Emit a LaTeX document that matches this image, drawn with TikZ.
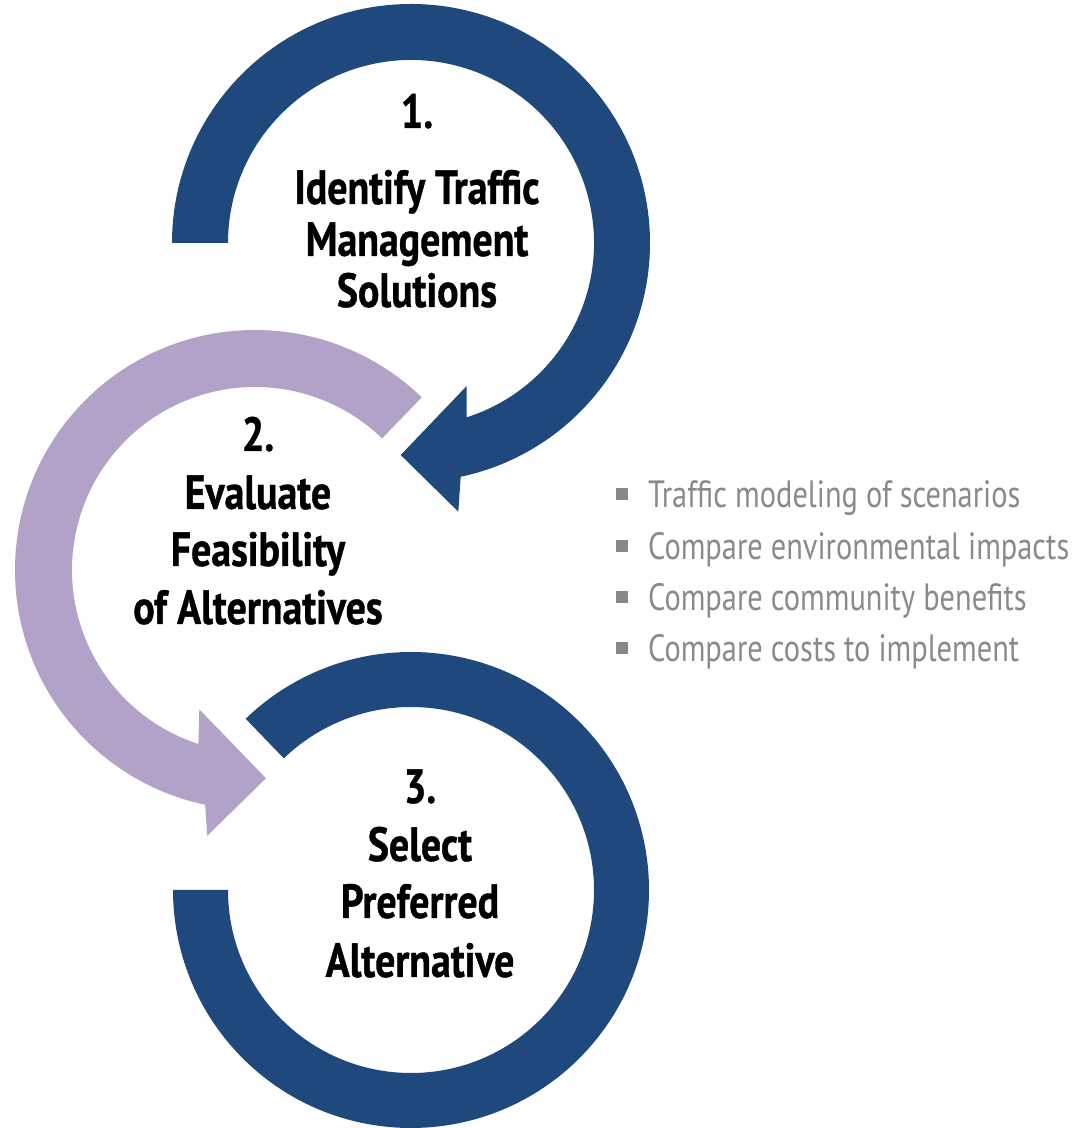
\documentclass[tikz,border=0pt]{standalone}
\usepackage{fontspec}
\newfontfamily\headfont{PT Sans}[FakeStretch=0.83, BoldFeatures={FakeBold=0.8}]
\newfontfamily\notefont{PT Sans}[FakeStretch=0.8]
\usepackage{tikz}
\usetikzlibrary{calc}

\definecolor{stepblue}{HTML}{1F497D}
\definecolor{steplilac}{HTML}{B3A2C7}
\definecolor{notegray}{HTML}{8A8A8A}
\definecolor{bulletgray}{HTML}{888888}

\tikzset{
  steptext/.style={font=\headfont\bfseries\fontsize{48}{52}\selectfont, anchor=base, inner sep=0pt},
  notetext/.style={font=\notefont\fontsize{38}{44}\selectfont, text=notegray, anchor=base west, inner sep=0pt},
  notebullet/.style={fill=bulletgray, minimum size=12pt, inner sep=0pt}
}

\begin{document}
\begin{tikzpicture}[x=1pt,y=1pt]
    \useasboundingbox (0,0) rectangle (1080,1128);
    % centres of the three rings
    \coordinate (c1) at (411,885);
    \coordinate (c2) at (255,558);
    \coordinate (c3) at (411,238);
    % Draw ring 1 with its arrowhead
    \fill[stepblue] ($(c1)+(180:239)$) arc[start angle=180, end angle=-78, radius=239]
      -- (458.3,616.3) -- (400.7,673) -- (466.7,742) -- ($(c1)+(-72.3:183)$)
      arc[start angle=-72.3, end angle=180, radius=183] -- cycle;
    % Draw ring 2 with its arrowhead
    \fill[steplilac] ($(c2)+(46:240)$) arc[start angle=46, end angle=258, radius=240]
      -- (207.3,292.3) -- (266,349.7) -- (199.3,418.7) -- ($(c2)+(252:183)$)
      arc[start angle=252, end angle=46, radius=183] -- cycle;
    % Draw ring 3
    \fill[stepblue] ($(c3)+(134:238)$) arc[start angle=134, end angle=-180, radius=238]
      -- ($(c3)+(180:183)$) arc[start angle=-180, end angle=134, radius=183] -- cycle;
    % Step labels
    \foreach \y/\txt [count=\i] in {1000/1., 924/Identify Traffic, 872/Management, 821/Solutions}{
      \node[steptext] (one\i) at (417,\y) {\txt};
    }
    \foreach \y/\txt [count=\i] in {677/2., 619/Evaluate, 562/Feasibility, 504/of Alternatives}{
      \node[steptext] (two\i) at (258,\y) {\txt};
    }
    \foreach \y/\txt [count=\i] in {325/3., 267/Select, 210/Preferred, 151/Alternative}{
      \node[steptext] (three\i) at (420,\y) {\txt};
    }
    % Bullet list
    \foreach \y/\txt [count=\i] in {620/Traffic modeling of scenarios, 568/Compare environmental impacts,
        517/Compare community benefits, 466/Compare costs to implement}{
      \node[notebullet] (bul\i) at (622,\y+14) {};
      \node[notetext] (note\i) at (648,\y) {\txt};
    }
\end{tikzpicture}
\end{document}
